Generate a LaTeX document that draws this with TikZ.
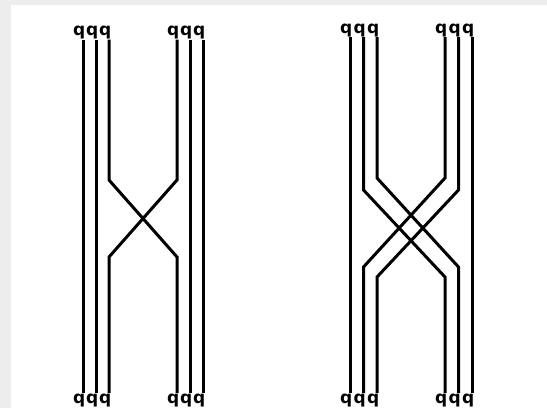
\documentclass[tikz,border=0pt]{standalone}
\usepackage{fontspec}
\setsansfont{DejaVu Sans}
\begin{document}
\begin{tikzpicture}[
  x=1pt,
  y=-1pt,
  strand/.style={line width=3pt},
  qlabel/.style={font=\sffamily\bfseries\fontsize{17}{17}\selectfont, inner sep=0pt}
]

% Grey frame and white sheet
\fill[black!7] (0,0) rectangle (547,408);
\fill[white] (11,5) rectangle (547,408);
\useasboundingbox (0,0) rectangle (547,408);

% Strand ends, left braid
\foreach \i/\x in {1/83,2/96,3/109,4/177,5/190,6/203} {
  \coordinate (tA\i) at (\x,39.5);
  \coordinate (bA\i) at (\x,393);
  \node[qlabel, anchor=south east] (qtA\i) at ([xshift=2.5pt]tA\i) {q};
  \node[qlabel, anchor=north east] (qbA\i) at ([xshift=2.5pt,yshift=-1pt]bA\i) {q};
}

% Strand ends, right braid
\foreach \i/\x in {1/350,2/363.5,3/377,4/445,5/458.5,6/472} {
  \coordinate (tB\i) at (\x,37);
  \coordinate (bB\i) at (\x,393);
  \node[qlabel, anchor=south east] (qtB\i) at ([xshift=2.5pt]tB\i) {q};
  \node[qlabel, anchor=north east] (qbB\i) at ([xshift=2.5pt,yshift=-1pt]bB\i) {q};
}

% Left braid: one crossing
\foreach \i in {1,2,5,6} {
  \draw[strand] (tA\i) -- (bA\i);
}
\draw[strand] (tA3) -- (tA3 |- 0,180) -- (bA4 |- 0,257) -- (bA4);
\draw[strand] (tA4) -- (tA4 |- 0,180) -- (bA3 |- 0,257) -- (bA3);

% Right braid: two strands over two strands
\foreach \i in {1,6} {
  \draw[strand] (tB\i) -- (bB\i);
}
\draw[strand] (tB2) -- (tB2 |- 0,190) -- (bB4 |- 0,277) -- (bB4);
\draw[strand] (tB3) -- (tB3 |- 0,178) -- (bB5 |- 0,267) -- (bB5);
\draw[strand] (tB4) -- (tB4 |- 0,178) -- (bB2 |- 0,267) -- (bB2);
\draw[strand] (tB5) -- (tB5 |- 0,190) -- (bB3 |- 0,277) -- (bB3);

\end{tikzpicture}
\end{document}
